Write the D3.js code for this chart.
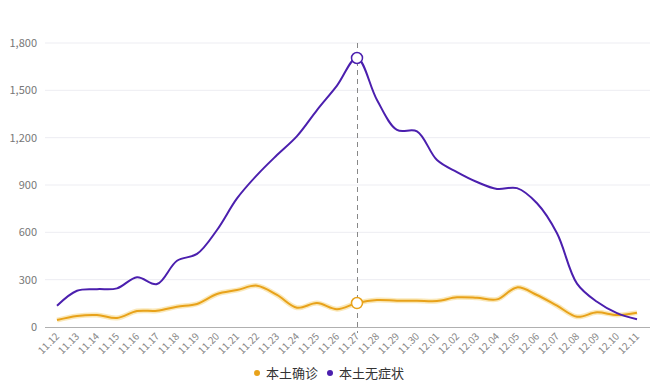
<!DOCTYPE html>
<html><head><meta charset="utf-8">
<script src="https://cdn.jsdelivr.net/npm/d3@7/dist/d3.min.js"></script>
<style>body{margin:0;background:#fff;} svg{display:block;font-family:"Noto Sans CJK SC","Noto Sans",sans-serif;}</style>
</head><body><svg id="c" width="660" height="386"></svg>
<script>
const dates = ["11.12","11.13","11.14","11.15","11.16","11.17","11.18","11.19","11.20","11.21","11.22","11.23","11.24","11.25","11.26","11.27","11.28","11.29","11.30","12.01","12.02","12.03","12.04","12.05","12.06","12.07","12.08","12.09","12.10","12.11"];
const confirmed = [44,70,76,57,101,103,129,146,209,234,262,203,122,152,113,152,171,167,167,165,188,185,175,251,203,135,65,93,76,91];
const asymptomatic = [135,230,240,245,315,272,420,463,615,815,963,1090,1210,1375,1530,1705,1439,1249,1240,1058,982,919,875,880,784,594,275,160,88,49];
const yTicks = [0,300,600,900,1200,1500,1800];
const seriesNames = ["本土确诊","本土无症状"];
const colors = ["#e8a21a","#4b1fae"];
const hoverIndex = 15;

const svg = d3.select("#c");
const x = d3.scalePoint().domain(dates).range([57,637]);
const y = d3.scaleLinear().domain([0,1800]).range([327,43]);

svg.append("g").selectAll("line").data(yTicks.slice(1)).join("line")
  .attr("x1",45).attr("x2",650).attr("y1",d=>y(d)).attr("y2",d=>y(d))
  .attr("stroke","#ededf2").attr("stroke-width",1);
svg.append("g").selectAll("text").data(yTicks).join("text")
  .attr("x",37).attr("y",d=>y(d)+4).attr("text-anchor","end")
  .attr("font-size",11).attr("fill","#777").text(d=>d3.format(",")(d));
svg.append("line").attr("x1",45).attr("x2",650).attr("y1",327.5).attr("y2",327.5)
  .attr("stroke","#b0b0b0").attr("stroke-width",1);
svg.append("g").selectAll("text").data(dates).join("text")
  .attr("transform",d=>`translate(${x(d)+3},${337}) rotate(-45)`)
  .attr("text-anchor","end").attr("font-size",10).attr("fill","#888").text(d=>d);

svg.append("line").attr("x1",x(dates[hoverIndex])+0.5).attr("x2",x(dates[hoverIndex])+0.5)
  .attr("y1",43).attr("y2",333).attr("stroke","#888").attr("stroke-dasharray","5,4").attr("stroke-width",1);

const line = d3.line().x((d,i)=>x(dates[i])).y(d=>y(d)).curve(d3.curveCatmullRom.alpha(0.5));
svg.append("path").datum(confirmed).attr("d",line).attr("fill","none")
  .attr("stroke","#f7d98a").attr("stroke-width",5).attr("stroke-opacity",0.6);
svg.append("path").datum(confirmed).attr("d",line).attr("fill","none")
  .attr("stroke",colors[0]).attr("stroke-width",2);
svg.append("path").datum(asymptomatic).attr("d",line).attr("fill","none")
  .attr("stroke",colors[1]).attr("stroke-width",2);

[[confirmed,colors[0]],[asymptomatic,colors[1]]].forEach(([arr,c])=>{
  svg.append("circle").attr("cx",x(dates[hoverIndex])).attr("cy",y(arr[hoverIndex])).attr("r",5.5)
    .attr("fill","#fff").attr("stroke",c).attr("stroke-width",1.5);
});

const lg = svg.append("g");
const lx = [257,330];
seriesNames.forEach((n,i)=>{
  lg.append("circle").attr("cx",lx[i]).attr("cy",373).attr("r",3).attr("fill",colors[i]);
  lg.append("text").attr("x",lx[i]+9).attr("y",378).attr("font-size",13).attr("fill","#333").text(n);
});
</script></body></html>
